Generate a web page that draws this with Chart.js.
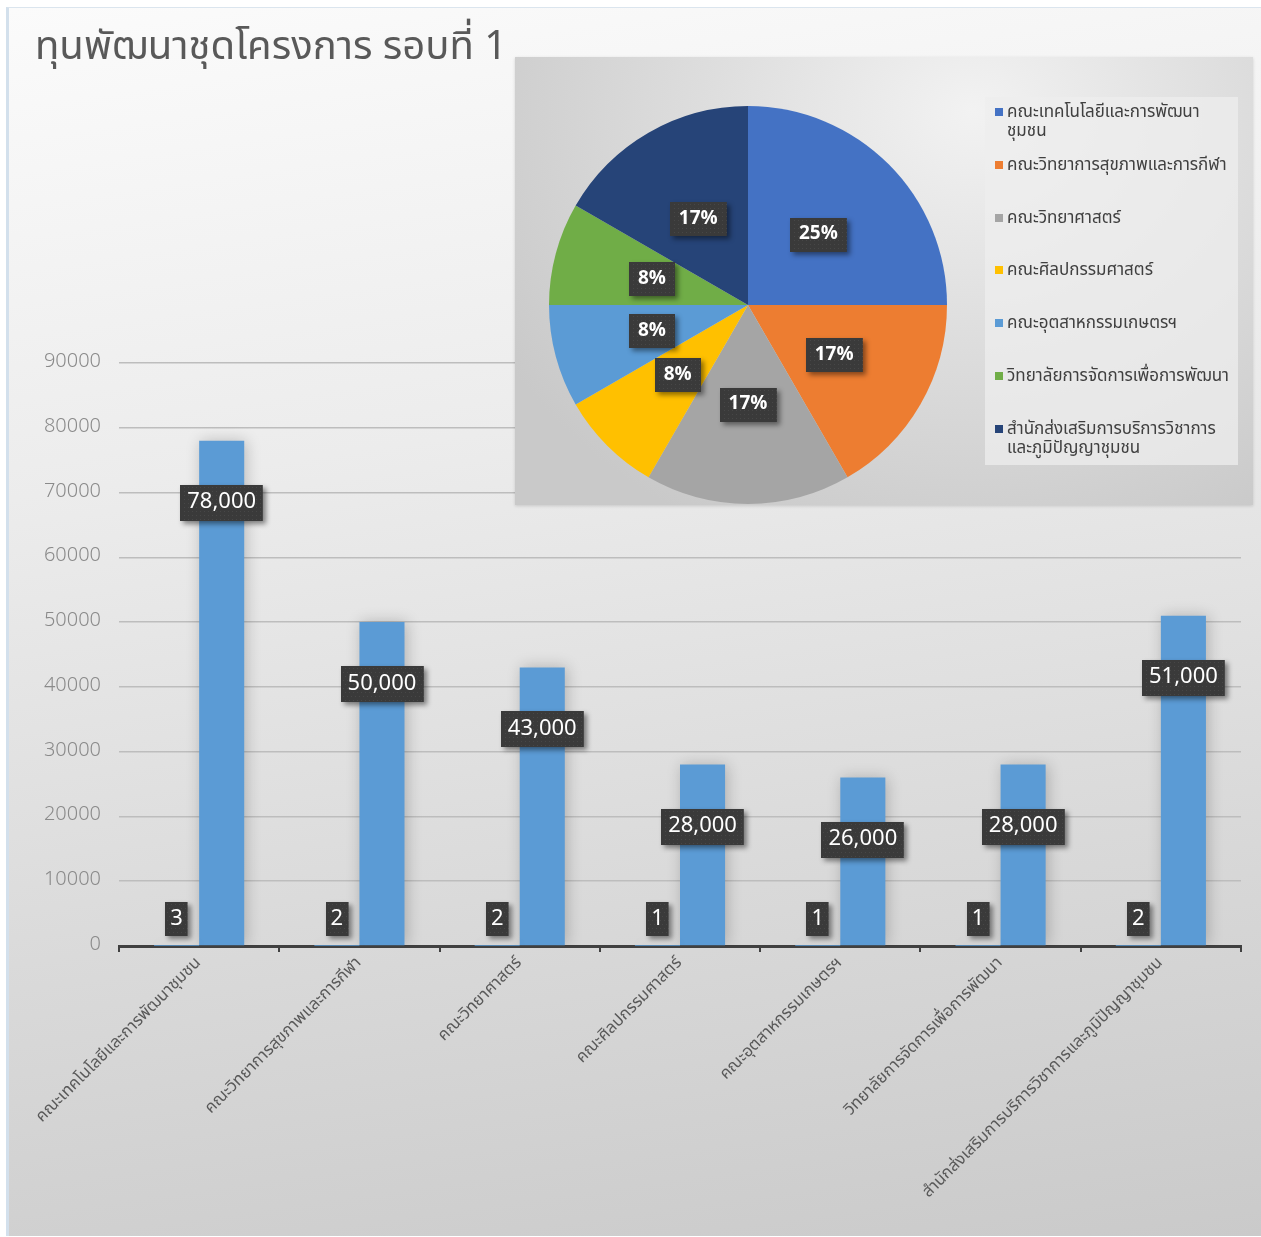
<!DOCTYPE html>
<html>
<head>
  <meta charset="UTF-8" />
  <title>ทุนพัฒนาชุดโครงการ รอบที่ 1</title>
  <style>
    body {
      margin: 0;
      background-color: white;
      font-family: "Noto Sans Thai", "Noto Sans", sans-serif;
    }
    #frame {
      position: absolute;
      left: 6px;
      top: 7px;
      width: 1252px;
      height: 1228px;
      background: linear-gradient(172deg, #fbfbfb 0%, #ececec 35%, #d9d9d9 70%, #cacaca 100%);
      border-left: 3px solid #d3e0ec;
      border-top: 1px solid #dbe5ee;
    }
    #barChart {
      position: absolute;
      left: 0;
      top: 0;
    }
    #pieBox {
      position: absolute;
      left: 506px;
      top: 49px;
      width: 738px;
      height: 448px;
      background: radial-gradient(ellipse at 62% 12%, #f2f2f2 0%, #dedede 40%, #c9c9c9 85%);
      box-shadow: 0 1px 3px rgba(0,0,0,0.15);
    }
    #pieChart {
      position: absolute;
      left: 33px;
      top: 48px;
    }
    #legend {
      position: absolute;
      left: 470px;
      top: 40px;
      width: 253px;
      height: 368px;
      background: rgba(238,238,238,0.75);
    }
    .item {
      position: absolute;
      left: 10px;
      width: 228px;
      font-size: 17px;
      line-height: 19px;
      color: #404040;
      padding-left: 12px;
    }
    .item span.mark {
      position: absolute;
      left: 0;
      top: 5px;
      width: 8px;
      height: 8px;
    }
  </style>
  <script src="https://cdn.jsdelivr.net/npm/chart.js"></script>
</head>
<body>

<div id="frame">
  <canvas id="barChart" width="1252" height="1228"></canvas>
  <div id="pieBox">
    <canvas id="pieChart" width="400" height="400"></canvas>
    <div id="legend"></div>
  </div>
</div>

<script>
// data
const categories = [
    "คณะเทคโนโลยีและการพัฒนาชุมชน",
    "คณะวิทยาการสุขภาพและการกีฬา",
    "คณะวิทยาศาสตร์",
    "คณะศิลปกรรมศาสตร์",
    "คณะอุตสาหกรรมเกษตรฯ",
    "วิทยาลัยการจัดการเพื่อการพัฒนา",
    "สำนักส่งเสริมการบริการวิชาการและภูมิปัญญาชุมชน"
];
const projectCounts = [3, 2, 2, 1, 1, 1, 2];
const budgets = [78000, 50000, 43000, 28000, 26000, 28000, 51000];
const yTicks = [0, 10000, 20000, 30000, 40000, 50000, 60000, 70000, 80000, 90000];
const chartTitle = "ทุนพัฒนาชุดโครงการ รอบที่ 1";

const barColor = "#5B9BD5";
const pieColors = ["#4472C4", "#ED7D31", "#A5A5A5", "#FFC000", "#5B9BD5", "#70AD47", "#264478"];
const thaiFont = '"Noto Sans Thai", "Noto Sans", sans-serif';

// dark label box like the Excel data labels
function drawTag(ctx, text, cx, cy, font, padX, h) {
    ctx.save();
    ctx.font = font;
    const w = ctx.measureText(text).width + padX * 2;
    const x = Math.round(cx - w / 2), y = Math.round(cy - h / 2);
    ctx.shadowColor = "rgba(0,0,0,0.45)";
    ctx.shadowBlur = 5;
    ctx.shadowOffsetX = 3;
    ctx.shadowOffsetY = 3;
    ctx.fillStyle = "#3a3a3a";
    ctx.fillRect(x, y, w, h);
    ctx.shadowColor = "transparent";
    ctx.fillStyle = "rgba(255,255,255,0.07)";
    for (let yy = y + 2; yy < y + h; yy += 4) {
        for (let xx = x + 2 + (yy % 8 ? 2 : 0); xx < x + w; xx += 4) {
            ctx.fillRect(xx, yy, 1, 1);
        }
    }
    ctx.fillStyle = "#ffffff";
    ctx.textAlign = "center";
    ctx.textBaseline = "middle";
    ctx.fillText(text, cx, cy + 1);
    ctx.restore();
}

const barTags = {
    id: "barTags",
    beforeDatasetsDraw(chart) {
        const ctx = chart.ctx;
        ctx.save();
        ctx.shadowColor = "rgba(0,0,0,0.22)";
        ctx.shadowBlur = 14;
        ctx.shadowOffsetX = 2;
    },
    afterDatasetsDraw(chart) {
        const ctx = chart.ctx;
        ctx.restore();
        chart.getDatasetMeta(0).data.forEach((el, i) => {
            drawTag(ctx, String(projectCounts[i]), el.x, el.base - 26, "22px " + thaiFont, 5, 34);
        });
        chart.getDatasetMeta(1).data.forEach((el, i) => {
            drawTag(ctx, budgets[i].toLocaleString("en-US"), el.x, el.y + 62, "22px " + thaiFont, 7, 36);
        });
    }
};

new Chart(document.getElementById("barChart"), {
    type: "bar",
    data: {
        labels: categories,
        datasets: [
            { label: "จำนวนโครงการ", data: projectCounts, backgroundColor: barColor },
            { label: "งบประมาณ", data: budgets, backgroundColor: barColor }
        ]
    },
    options: {
        responsive: false,
        animation: false,
        devicePixelRatio: 1,
        categoryPercentage: 0.5625,
        barPercentage: 1.0,
        layout: { padding: { left: 26, right: 20, bottom: 0 } },
        plugins: {
            legend: { display: false },
            tooltip: { enabled: false },
            title: {
                display: true,
                text: chartTitle,
                align: "start",
                color: "#595959",
                font: { family: thaiFont, size: 40, weight: "normal" },
                padding: { top: 19, bottom: 288 }
            }
        },
        scales: {
            x: {
                afterFit: (scale) => { scale.height = 290; },
                grid: { drawOnChartArea: false, drawTicks: true, tickLength: 6, color: "#404040", lineWidth: 2, offset: true },
                border: { color: "#404040", width: 3 },
                ticks: {
                    autoSkip: false,
                    maxRotation: 45,
                    minRotation: 45,
                    padding: 2,
                    color: "#595959",
                    font: { family: thaiFont, size: 16.5 }
                }
            },
            y: {
                min: 0,
                max: 90000,
                afterFit: (scale) => { scale.width = 84; },
                afterBuildTicks: (scale) => { scale.ticks = yTicks.map(v => ({ value: v })); },
                grid: { color: "#bdbdbd", lineWidth: 1.5, drawTicks: false },
                border: { display: false },
                ticks: {
                    padding: 18,
                    color: "#8a8a8a",
                    font: { family: thaiFont, size: 20, weight: "300" },
                    callback: (v) => String(v)
                }
            }
        }
    },
    plugins: [barTags]
});

const pieTags = {
    id: "pieTags",
    afterDatasetsDraw(chart) {
        const total = projectCounts.reduce((a, b) => a + b, 0);
        chart.getDatasetMeta(0).data.forEach((el, i) => {
            const p = el.tooltipPosition();
            const pct = Math.round(projectCounts[i] / total * 100) + "%";
            drawTag(chart.ctx, pct, p.x, p.y, "bold 19px " + thaiFont, 9, 34);
        });
    }
};

new Chart(document.getElementById("pieChart"), {
    type: "pie",
    data: {
        labels: categories,
        datasets: [{ data: projectCounts, backgroundColor: pieColors, borderWidth: 0 }]
    },
    options: {
        responsive: false,
        animation: false,
        devicePixelRatio: 1,
        layout: { padding: 1 },
        plugins: { legend: { display: false }, tooltip: { enabled: false } }
    },
    plugins: [pieTags]
});

// legend for the pie, built from the same arrays
const legend = document.getElementById("legend");
categories.forEach((name, i) => {
    const div = document.createElement("div");
    div.className = "item";
    div.style.top = (6 + i * 52.8) + "px";
    const mark = document.createElement("span");
    mark.className = "mark";
    mark.style.background = pieColors[i];
    div.appendChild(mark);
    div.appendChild(document.createTextNode(name));
    legend.appendChild(div);
});
</script>

</body>
</html>
